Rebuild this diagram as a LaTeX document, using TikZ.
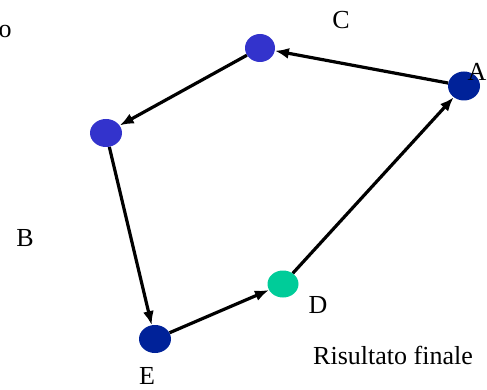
\documentclass[tikz,border=0pt]{standalone}
\usepackage{fontspec}
\setmainfont{Liberation Serif}
\usetikzlibrary{shapes.geometric,arrows.meta}
\definecolor{blueA}{HTML}{3333CC}
\definecolor{blueB}{HTML}{002299}
\definecolor{tealD}{HTML}{00CC99}
\tikzset{
  vtx/.style={ellipse,inner sep=0pt,draw=none},
  lbl/.style={inner sep=0pt,font=\fontsize{26}{30}\selectfont},
  edge/.style={line width=3.2pt,-{Latex[length=14pt,width=11pt]}}
}
\begin{document}
\begin{tikzpicture}[x=1pt,y=-1pt]
\useasboundingbox (0,0) rectangle (487,390);
\node[vtx,fill=blueA,minimum width=30pt,minimum height=28pt] (c) at (260,48) {};
\node[vtx,fill=blueB,minimum width=32pt,minimum height=29pt] (a) at (464,86) {};
\node[vtx,fill=blueA,minimum width=32pt,minimum height=28pt] (b) at (106,133) {};
\node[vtx,fill=blueB,minimum width=32pt,minimum height=28pt] (e) at (155,339) {};
\node[vtx,fill=tealD,minimum width=31pt,minimum height=27pt] (d) at (283,284) {};
\draw[edge] (a) -- (c);
\draw[edge] (c) -- (b);
\draw[edge] (b) -- (e);
\draw[edge] (e) -- (d);
\draw[edge] (d) -- (a);
\node[lbl] (lc) at (341,20) {C};
\node[lbl] (la) at (477,72) {A};
\node[lbl] (lb) at (25,238) {B};
\node[lbl] (ld) at (318,305) {D};
\node[lbl] (le) at (147,376) {E};
\node[lbl] (lo) at (5,32) {o};
\node[lbl] (res) at (393,355) {Risultato finale};
\end{tikzpicture}
\end{document}
